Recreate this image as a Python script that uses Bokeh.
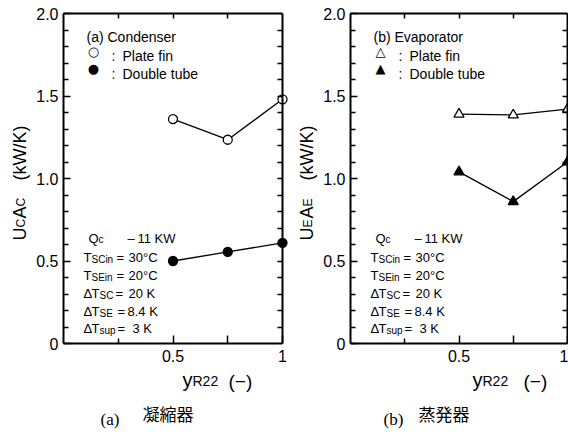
import math
from bokeh.plotting import figure
from bokeh.layouts import row
from bokeh.models import Label, LinearAxis, FixedTicker, Range1d, ColumnDataSource
from bokeh.embed import file_html
from bokeh.resources import INLINE

# ---------------- data ----------------
y_r22 = [0.5, 0.75, 1.0]
cond_plate_fin = [1.36, 1.235, 1.48]
cond_double_tube = [0.50, 0.555, 0.61]
evap_plate_fin = [1.39, 1.385, 1.42]
evap_double_tube = [1.04, 0.86, 1.10]

y_ticks = [0.0, 0.5, 1.0, 1.5, 2.0]
y_tick_labels = ["0", "0.5", "1.0", "1.5", "2.0"]
y_minor = [0.1, 0.2, 0.3, 0.4, 0.6, 0.7, 0.8, 0.9, 1.1, 1.2, 1.3, 1.4,
           1.6, 1.7, 1.8, 1.9]
x_ticks = [0.5, 0.75, 1.0]
x_tick_labels = ["0.5", "", "1"]
x_minor = [0.25]
top_ticks = [0.25, 0.5, 0.75]

FONT = "Liberation Sans"
H = 437
FRAME_TOP = 13
FRAME_BOTTOM = 343
FRAME_H = FRAME_BOTTOM - FRAME_TOP
Y_UNIT = FRAME_H / 2.0  # px per data unit in y


def add_text(p, unit, fx, py, text, size, font=FONT, align="left",
             baseline="alphabetic", angle=0.0):
    p.add_layout(Label(x=fx / unit, y=(FRAME_BOTTOM - py) / Y_UNIT,
                       text=text, text_font=font, text_font_size=f"{size}px",
                       text_align=align, text_baseline=baseline, angle=angle,
                       text_color="black"))


def style_axis(ax, major_in, minor_in):
    ax.axis_line_width = 2
    ax.axis_line_color = "black"
    ax.major_tick_in = major_in
    ax.major_tick_out = 0
    ax.minor_tick_in = minor_in
    ax.minor_tick_out = 0
    ax.major_tick_line_width = 1.5
    ax.minor_tick_line_width = 1.5
    ax.major_tick_line_color = "black"
    ax.minor_tick_line_color = "black"
    ax.major_label_text_font = FONT
    ax.major_label_text_font_size = "16px"
    ax.major_label_text_color = "black"


def make_panel(fig_w, frame_left, unit, pf, dt, m_open, size, letter, name,
               sub_letter, cap_text, cap_fx, xt_fx):
    x_start = -frame_left / unit
    x_end = (fig_w - frame_left) / unit
    y_start = -(H - FRAME_BOTTOM) / Y_UNIT
    y_end = FRAME_BOTTOM / Y_UNIT
    p = figure(width=fig_w, height=H, x_range=Range1d(x_start, x_end),
               y_range=Range1d(y_start, y_end), output_backend="svg",
               toolbar_location=None, title=None,
               x_axis_location=None, y_axis_location=None,
               min_border_left=0, min_border_right=0, min_border_top=0,
               min_border_bottom=0)
    p.grid.visible = False
    p.outline_line_color = None
    p.background_fill_color = "white"
    p.border_fill_color = "white"

    xa = LinearAxis(fixed_location=0.0,
                    ticker=FixedTicker(ticks=x_ticks, minor_ticks=x_minor))
    xa.major_label_overrides = dict(zip(x_ticks, x_tick_labels))
    xa.bounds = (0, 1.0)
    style_axis(xa, 8, 5)
    xa.major_label_standoff = 6
    p.add_layout(xa, "below")

    ya = LinearAxis(fixed_location=0.0,
                    ticker=FixedTicker(ticks=y_ticks, minor_ticks=y_minor))
    ya.major_label_overrides = dict(zip(y_ticks, y_tick_labels))
    ya.bounds = (0, 2.0)
    style_axis(ya, 7, 5)
    ya.major_label_standoff = 5
    p.add_layout(ya, "left")

    top = LinearAxis(fixed_location=2.0,
                     ticker=FixedTicker(ticks=[], minor_ticks=top_ticks))
    style_axis(top, 5, 5)
    top.bounds = (0, 1.0)
    p.add_layout(top, "above")

    right = LinearAxis(fixed_location=1.0,
                       ticker=FixedTicker(ticks=[], minor_ticks=y_ticks[1:-1] + y_minor))
    style_axis(right, 5, 5)
    right.bounds = (0, 2.0)
    p.add_layout(right, "right")

    src = ColumnDataSource(dict(x=y_r22, pf=pf, dt=dt))
    p.line("x", "pf", source=src, line_color="black", line_width=1.3)
    p.line("x", "dt", source=src, line_color="black", line_width=1.3)
    p.scatter("x", "pf", source=src, marker=m_open, size=size,
              fill_color="white", line_color="black", line_width=1.3)
    p.scatter("x", "dt", source=src, marker=m_open, size=size,
              fill_color="black", line_color="black", line_width=1.3)

    # legend block
    sym_open = "○" if m_open == "circle" else "△"
    sym_fill = "●" if m_open == "circle" else "▲"
    add_text(p, unit, 23, 36, f"{letter} {name}", 14)
    add_text(p, unit, 30, 51, sym_open, 13, font="DejaVu Sans", align="center", baseline="middle")
    add_text(p, unit, 30, 68, sym_fill, 13, font="DejaVu Sans", align="center", baseline="middle")
    add_text(p, unit, 48, 55, ":", 14)
    add_text(p, unit, 48, 73, ":", 14)
    add_text(p, unit, 59, 55, "Plate fin", 14)
    add_text(p, unit, 59, 73, "Double tube", 14)

    # condition block
    MS, SS = 13, 10
    b = [238, 257, 275, 293, 311, 328]
    add_text(p, unit, 25, b[0], "Q", MS)
    add_text(p, unit, 35, b[0] + 1, "c", SS)
    add_text(p, unit, 64, b[0], "–", MS)
    add_text(p, unit, 74, b[0], "11 KW", MS)
    for i, sub, val in ((1, "SCin", "30°C"), (2, "SEin", "20°C")):
        add_text(p, unit, 20, b[i], "T", MS)
        add_text(p, unit, 28, b[i] + 2, sub, SS)
        add_text(p, unit, 53, b[i], "=", MS)
        add_text(p, unit, 65, b[i], val, MS)
    for i, sub, eq, val, vx in ((3, "SC", 52, "20 K", 65), (4, "SE", 54, "8.4 K", 64),
                                (5, "sup", 54, "3 K", 69)):
        add_text(p, unit, 20, b[i], "Δ", MS)
        add_text(p, unit, 28, b[i], "T", MS)
        add_text(p, unit, 36, b[i] + 2, sub, SS)
        add_text(p, unit, eq, b[i], "=", MS)
        add_text(p, unit, vx, b[i], val, MS)

    # y axis title (rotated)
    ang = math.pi / 2
    bx = -44
    add_text(p, unit, bx, 240, "U", 18, angle=ang)
    add_text(p, unit, bx + 1, 227, sub_letter, 12, angle=ang)
    add_text(p, unit, bx, 218, "A", 18, angle=ang)
    add_text(p, unit, bx + 1, 206, sub_letter, 12, angle=ang)
    add_text(p, unit, bx, 180, "(kW/K)", 18, angle=ang)

    # x axis title
    add_text(p, unit, xt_fx[0], 379, "y", 20)
    add_text(p, unit, xt_fx[0] + 10, 380, "R22", 14)
    add_text(p, unit, xt_fx[1], 381, "(−)", 19)

    # caption
    add_text(p, unit, cap_fx[0], 419, f"{letter}", 17, font="Liberation Serif")
    add_text(p, unit, cap_fx[1], 413, cap_text, 17, font="Noto Sans CJK JP",
             baseline="middle")
    return p


p1 = make_panel(290, 63, 219.0, cond_plate_fin, cond_double_tube,
                "circle", 9, "(a)", "Condenser", "C", "凝縮器",
                (37, 79), (119, 165))
p2 = make_panel(278, 60, 217.0, evap_plate_fin, evap_double_tube,
                "triangle", 10, "(b)", "Evaporator", "E", "蒸発器",
                (33, 68), (122, 173))

layout = row(p1, p2, spacing=0)
open("out.html", "w").write(file_html(layout, INLINE))
